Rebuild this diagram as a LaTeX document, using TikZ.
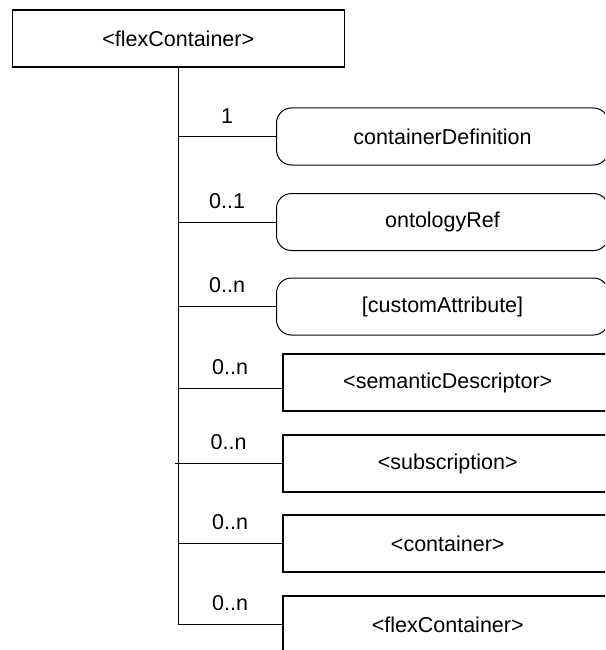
\documentclass[tikz,border=0pt]{standalone}
\usepackage{fontspec}
\setmainfont{Liberation Sans}
\usetikzlibrary{positioning}

\tikzset{
  resbox/.style={draw, line width=1.5pt, minimum width=330pt, minimum height=57pt, inner sep=0pt},
  attrbox/.style={draw, line width=1pt, rounded corners=15pt, minimum width=332pt, minimum height=57pt, inner sep=0pt},
  link/.style={line width=0.9pt},
  card/.style={above=13pt, inner sep=0pt}
}

\begin{document}
\begin{tikzpicture}[x=1pt,y=-1pt,font=\fontsize{21.5}{26}\selectfont]
\useasboundingbox (0,0) rectangle (605,650);
\clip (0,0) rectangle (605,650);
% parent resource
\node[resbox, minimum width=332pt, anchor=north west] (root) at (11.5,9.5) {<flexContainer>};
% attributes
\node[attrbox, anchor=west] (defn) at (276,136.5) {containerDefinition};
\node[attrbox, anchor=west] (onto) at (276,222) {ontologyRef};
\node[attrbox, anchor=west] (cust) at (276,306.5) {[customAttribute]};
% child resources
\node[resbox, anchor=west] (sem) at (282,382.5) {<semanticDescriptor>};
\node[resbox, anchor=west] (sub) at (282,463.5) {<subscription>};
\node[resbox, anchor=west] (cnt) at (282,543.5) {<container>};
\node[resbox, anchor=west] (flex) at (282,624.5) {<flexContainer>};
% tree
\draw[link] (root.south) |- (flex.west) node[card, pos=0.75] {0..n};
\draw[link] (root.south |- defn.west) -- (defn.west) node[card, midway] {1};
\draw[link] (root.south |- onto.west) -- (onto.west) node[card, midway] {0..1};
\draw[link] (root.south |- cust.west) -- (cust.west) node[card, midway] {0..n};
\draw[link] ([yshift=-6pt]root.south |- sem.west) -- ([yshift=-6pt]sem.west) node[card, midway] {0..n};
\draw[link] ([xshift=-3pt]root.south |- sub.west) -- (sub.west) node[card, midway] {0..n};
\draw[link] (root.south |- cnt.west) -- (cnt.west) node[card, midway] {0..n};
\end{tikzpicture}
\end{document}
